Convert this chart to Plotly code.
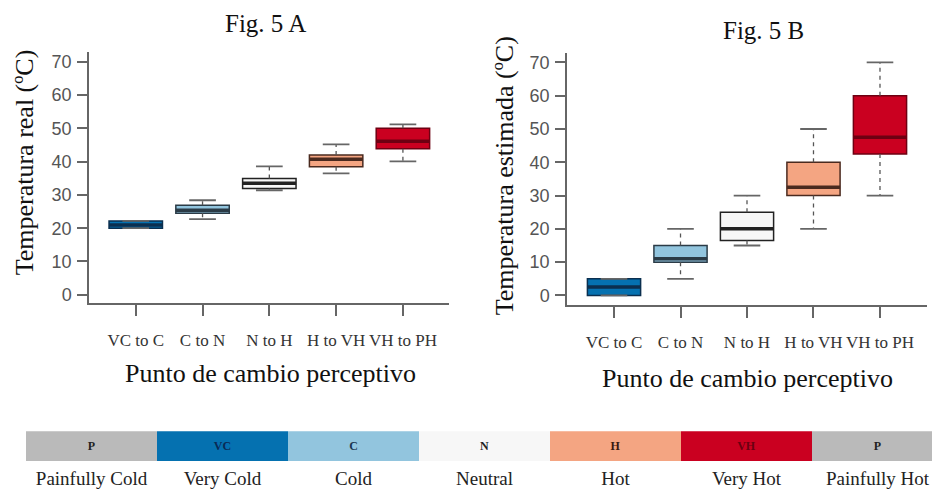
import plotly.graph_objects as go

W, H = 932, 493

# ---------------- data ----------------
categories = ["VC to C", "C to N", "N to H", "H to VH", "VH to PH"]

# Fig. 5 A : Temperatura real
real_lo  = [20.0, 22.7, 31.4, 36.5, 40.1]
real_q1  = [20.0, 24.5, 31.9, 38.5, 43.9]
real_med = [21.0, 25.4, 33.5, 40.7, 46.1]
real_q3  = [22.2, 26.9, 34.9, 42.0, 50.0]
real_hi  = [22.2, 28.4, 38.6, 45.2, 51.2]

# Fig. 5 B : Temperatura estimada
est_lo  = [0.0, 5.0, 15.0, 20.0, 30.0]
est_q1  = [0.0, 10.0, 16.5, 30.0, 42.5]
est_med = [2.5, 11.0, 20.0, 32.5, 47.5]
est_q3  = [5.0, 15.0, 25.0, 40.0, 60.0]
est_hi  = [5.0, 20.0, 30.0, 50.0, 70.0]

y_ticks = [0, 10, 20, 30, 40, 50, 60, 70]

# colour scale legend
scale_codes  = ["P", "VC", "C", "N", "H", "VH", "P"]
scale_labels = ["Painfully Cold", "Very Cold", "Cold", "Neutral", "Hot", "Very Hot", "Painfully Hot"]

# ---------------- styles ----------------
box_fill  = ["#0571b0", "#92c5de", "#f7f7f7", "#f4a582", "#ca0020"]
box_edge  = ["#0b2f4f", "#2b3b46", "#222222", "#4a2a1f", "#6e0012"]
scale_fill = ["#bababa", "#0571b0", "#92c5de", "#f7f7f7", "#f4a582", "#ca0020", "#bababa"]
scale_text = ["#222222", "#0a2a55", "#1a3550", "#222222", "#3a1a10", "#6a0010", "#222222"]

SERIF = "Liberation Serif"
SANS = "Liberation Sans"
AX = "#666666"

fig = go.Figure()


def add_panel(xa, ya, lo, q1, med, q3, hi):
    # boxes
    for i in range(len(categories)):
        fig.add_trace(go.Box(
            x=[i], q1=[q1[i]], median=[med[i]], q3=[q3[i]],
            lowerfence=[q1[i]], upperfence=[q3[i]],
            width=0.8, whiskerwidth=0,
            fillcolor=box_fill[i],
            line=dict(color=box_edge[i], width=1.5),
            boxpoints=False, showlegend=False, hoverinfo="skip",
            xaxis=xa, yaxis=ya,
        ))
    # dashed whiskers
    wx, wy = [], []
    cx, cy = [], []
    mx, my = [], []
    for i in range(len(categories)):
        wx += [i, i, None, i, i, None]
        wy += [q3[i], hi[i], None, q1[i], lo[i], None]
        cx += [i - 0.2, i + 0.2, None, i - 0.2, i + 0.2, None]
        cy += [hi[i], hi[i], None, lo[i], lo[i], None]
    fig.add_trace(go.Scatter(x=wx, y=wy, mode="lines",
                             line=dict(color="#555555", width=1.3, dash="4px,4px"),
                             showlegend=False, hoverinfo="skip", xaxis=xa, yaxis=ya))
    fig.add_trace(go.Scatter(x=cx, y=cy, mode="lines",
                             line=dict(color="#666666", width=1.8),
                             showlegend=False, hoverinfo="skip", xaxis=xa, yaxis=ya))
    # thick medians
    for i in range(len(categories)):
        fig.add_trace(go.Scatter(x=[i - 0.4, i + 0.4], y=[med[i], med[i]], mode="lines",
                                 line=dict(color=box_edge[i], width=3.5),
                                 showlegend=False, hoverinfo="skip", xaxis=xa, yaxis=ya))


add_panel("x", "y", real_lo, real_q1, real_med, real_q3, real_hi)
add_panel("x2", "y2", est_lo, est_q1, est_med, est_q3, est_hi)

# colour scale bar
fig.add_trace(go.Bar(
    x=list(range(len(scale_codes))), y=[1] * len(scale_codes), width=1,
    marker=dict(color=scale_fill, line=dict(width=0)),
    text=["<b>%s</b>" % c for c in scale_codes],
    textposition="inside", insidetextanchor="middle", textangle=0,
    textfont=dict(family=SERIF, size=12, color=scale_text),
    constraintext="none",
    showlegend=False, hoverinfo="skip", xaxis="x3", yaxis="y3",
))


def xax(domain, rng):
    return dict(domain=domain, range=rng, showline=True, linecolor=AX, linewidth=1.5,
                ticks="outside", ticklen=11, tickwidth=1.5, tickcolor=AX,
                tickvals=list(range(len(categories))), ticktext=categories,
                tickfont=dict(family=SERIF, size=17, color="#333333"),
                ticklabelstandoff=10,
                showgrid=False, zeroline=False, fixedrange=True)


def yax(domain, rng, anchor):
    return dict(domain=domain, range=rng, showline=True, linecolor=AX, linewidth=1.5,
                ticks="outside", ticklen=10, tickwidth=1.5, tickcolor=AX,
                tickvals=y_ticks, tickfont=dict(family=SANS, size=18, color="#555555"),
                ticklabelstandoff=2, anchor=anchor,
                showgrid=False, zeroline=False, fixedrange=True)


fig.update_layout(
    width=W, height=H,
    margin=dict(l=0, r=0, t=0, b=0),
    paper_bgcolor="white", plot_bgcolor="rgba(0,0,0,0)",
    xaxis=dict(xax([89 / W, 449 / W], [-0.7, 4.69]), anchor="y"),
    yaxis=yax([1 - 304 / H, 1 - 52 / H], [-2.4, 73.0], "x"),
    xaxis2=dict(xax([567 / W, 927 / W], [-0.707, 4.707]), anchor="y2"),
    yaxis2=yax([1 - 306 / H, 1 - 53 / H], [-2.8, 72.9], "x2"),
    xaxis3=dict(domain=[26 / W, 1.0], range=[-0.5, 6.416], anchor="y3",
                tickvals=list(range(len(scale_labels))), ticktext=scale_labels,
                tickfont=dict(family=SERIF, size=19, color="#222222"),
                ticks="", showline=False, showgrid=False, zeroline=False,
                ticklabelstandoff=4, fixedrange=True),
    yaxis3=dict(domain=[1 - 463 / H, 1 - 433 / H], range=[0, 1], anchor="x3",
                showticklabels=False, showgrid=False, zeroline=False, showline=False,
                fixedrange=True),
    bargap=0,
)

ann = dict(xref="paper", yref="paper", showarrow=False,
           font=dict(family=SERIF, size=25, color="#111111"))
fig.add_annotation(ann, text="Fig. 5 A", x=265 / W, y=1 - 24 / H, xanchor="center", yanchor="middle")
fig.add_annotation(ann, text="Fig. 5 B", x=763 / W, y=1 - 31 / H, xanchor="center", yanchor="middle")
ann["font"] = dict(family=SERIF, size=26, color="#111111")
fig.add_annotation(ann, text="Punto de cambio perceptivo", x=270 / W, y=1 - 375 / H,
                   xanchor="center", yanchor="middle")
fig.add_annotation(ann, text="Punto de cambio perceptivo", x=747 / W, y=1 - 380 / H,
                   xanchor="center", yanchor="middle")
fig.add_annotation(ann, text="Temperatura real (ºC)", x=24 / W, y=1 - 163 / H, textangle=-90,
                   xanchor="center", yanchor="middle")
fig.add_annotation(ann, text="Temperatura estimada (ºC)", x=504 / W, y=1 - 177 / H, textangle=-90,
                   xanchor="center", yanchor="middle")

fig.write_html("out.html", config={"displayModeBar": False})
